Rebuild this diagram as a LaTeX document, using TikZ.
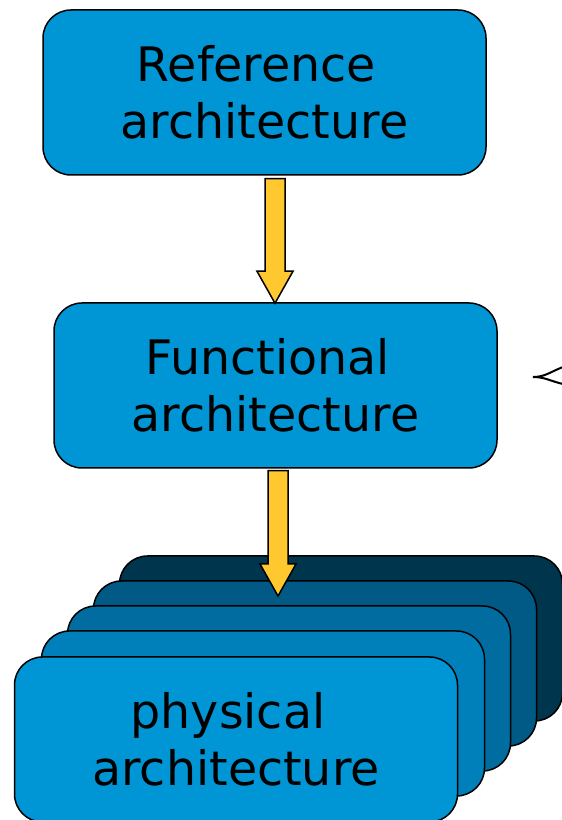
\documentclass[tikz,border=0pt]{standalone}
\usepackage{fontspec}
\setmainfont{DejaVu Sans}
\usetikzlibrary{calc}
\definecolor{boxA}{RGB}{0,150,214}
\definecolor{boxB}{RGB}{0,128,187}
\definecolor{boxC}{RGB}{0,108,160}
\definecolor{boxD}{RGB}{0,90,133}
\definecolor{boxE}{RGB}{0,53,78}
\definecolor{arrowY}{RGB}{255,200,46}
\tikzset{
  archbox/.style={draw=black, line width=1.5pt, rounded corners=28pt,
    minimum width=443pt, minimum height=165pt, inner sep=0pt,
    align=center, font=\fontsize{47.5}{57}\selectfont},
  blockarrow/.style={draw=black, line width=1.5pt, fill=arrowY, line join=miter},
}
\newcommand{\blkarrow}[2]{%
  \path[blockarrow] let \p1=(#1), \p2=(#2) in
    (\x1-10pt,\y1) -- (\x1+10pt,\y1) -- (\x1+10pt,\y2+32pt) -- (\x1+18pt,\y2+32pt)
    -- (\x1,\y2) -- (\x1-18pt,\y2+32pt) -- (\x1-10pt,\y2+32pt) -- cycle;}
\begin{document}
\begin{tikzpicture}[x=1pt,y=1pt]
\useasboundingbox (0,0) rectangle (562,820);
% top boxes
\node[archbox, fill=boxA] (r) at (264.5,727.5) {\raisebox{0pt}{Reference\hspace*{16pt}}\\architecture};
\node[archbox, fill=boxA] (f) at (275.5,434.5) {Functional\hspace*{16pt}\\architecture};
% stack
\node[archbox, fill=boxE] (p5) at (341,181.5) {};
\node[archbox, fill=boxD] (p4) at (315,156.5) {};
\node[archbox, fill=boxC] (p3) at (289,131.5) {};
\node[archbox, fill=boxB] (p2) at (263,106.5) {};
\node[archbox, fill=boxA] (p1) at (236,80.5) {physical\hspace*{16pt}\\architecture};
% arrows
\coordinate (a1s) at ($(r.south)+(10.5,-3)$);
\coordinate (a1e) at ($(f.north)+(-0.5,-1)$);
\coordinate (a2s) at ($(f.south)+(2.5,-2)$);
\coordinate (a2e) at (278,224);
\blkarrow{a1s}{a1e}
\blkarrow{a2s}{a2e}
% brace tip
\coordinate (bt) at (533,443);
\coordinate (bu) at (563,453);
\coordinate (bl) at (563,436);
\draw[line width=2pt, line cap=round] (bu) .. controls (550,448) and (545,443) .. (bt)
  .. controls (545,443) and (550,439) .. (bl);
\end{tikzpicture}
\end{document}
